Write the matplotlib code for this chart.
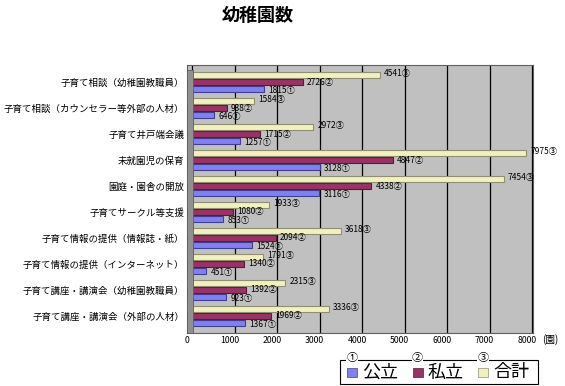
import numpy as np
import matplotlib.pyplot as plt
from matplotlib.patches import Rectangle
from matplotlib.transforms import ScaledTranslation

plt.rcParams['font.family'] = ['Noto Sans CJK JP', 'DejaVu Sans']

# データ (上から順)
categories = ['子育て相談（幼稚園教職員）', '子育て相談（カウンセラー等外部の人材）',
              '子育て井戸端会議', '未就園児の保育', '園庭・園舎の開放',
              '子育てサークル等支援', '子育て情報の提供（情報誌・紙）',
              '子育て情報の提供（インターネット）', '子育て講座・講演会（幼稚園教職員）',
              '子育て講座・講演会（外部の人材）']
kouritsu = [1815, 646, 1257, 3128, 3116, 853, 1524, 451, 923, 1367]
shiritsu = [2726, 938, 1715, 4847, 4338, 1080, 2094, 1340, 1392, 1969]
goukei = [4541, 1584, 2972, 7975, 7454, 1933, 3618, 1791, 2315, 3336]
series_names = ['公立', '私立', '合計']
marks = ['①', '②', '③']
colors = ['#8080f0', '#993366', '#f0f0c0']
edges = ['#404090', '#5a1a3a', '#909070']
xticks = [0, 1000, 2000, 3000, 4000, 5000, 6000, 7000, 8000]

W, H = 565, 386
fig = plt.figure(figsize=(W / 100, H / 100), dpi=100)
fig.patch.set_facecolor('white')

def fx(px):
    return px / W

def fy(py):
    return 1 - py / H

ax = fig.add_axes([fx(187), fy(333), fx(533) - fx(187), fy(65) - fy(333)])
ax.set_facecolor('#c0c0c0')
ax.set_xlim(0, 8000 * 346 / 340)
ax.set_ylim(len(categories) - 1 + 0.654, -0.654)

y = np.arange(len(categories))
off = [0.27, 0, -0.27]
nudge = [-1.2, 0, 1.2]  # ラベルの上下ずらし (pt)
h = 0.22
num_font = ['Liberation Sans Narrow', 'Noto Sans CJK JP', 'DejaVu Sans']
for vals, o, c, ec, m, nd in zip([kouritsu, shiritsu, goukei], off, colors, edges, marks, nudge):
    ax.barh(y + o, vals, height=h, color=c, edgecolor=ec, linewidth=0.8, zorder=3)
    for yi, v in zip(y, vals):
        ax.annotate(f'{v}{m}', (v, yi + o), xytext=(3, nd), textcoords='offset points',
                    fontsize=6, family=num_font, va='center', ha='left',
                    color='black', zorder=5, annotation_clip=False)

ax.set_xticks(xticks)
ax.set_xticklabels([str(t) for t in xticks], fontsize=6.3)
ax.set_yticks(y)
ax.set_yticklabels(categories, fontsize=6.8)
ax.tick_params(axis='both', length=0, pad=2)
ax.xaxis.grid(True, color='black', linewidth=0.9, zorder=1)
for ln in ax.get_xgridlines():
    ln.set_transform(ln.get_transform() + ScaledTranslation(5 / 100, 0, fig.dpi_scale_trans))
for s in ax.spines.values():
    s.set_color('#606060')
    s.set_linewidth(0.8)

# 奥行きの側面
fig.patches.append(Rectangle((fx(187), fy(333)), fx(193) - fx(187), fy(70) - fy(333),
                             transform=fig.transFigure, facecolor='#909090',
                             edgecolor='#606060', linewidth=0.6, zorder=2))

fig.text(fx(258), fy(15), '幼稚園数', fontsize=13, fontweight='bold', ha='center', va='center')
fig.text(fx(550), fy(340), '(園)', fontsize=7, ha='center', va='center')

# 凡例
fig.patches.append(Rectangle((fx(340), fy(384)), fx(538) - fx(340), fy(360) - fy(384),
                             transform=fig.transFigure, facecolor='white',
                             edgecolor='black', linewidth=0.8))
for i, (name, c, ec, m) in enumerate(zip(series_names, colors, edges, marks)):
    x0 = 347 + i * 65.5
    fig.patches.append(Rectangle((fx(x0), fy(377)), fx(10) - fx(0), fy(368) - fy(377),
                                 transform=fig.transFigure, facecolor=c,
                                 edgecolor=ec, linewidth=0.5))
    fig.text(fx(x0 + 15), fy(372.5), name, fontsize=13, ha='left', va='center')
    fig.text(fx(x0 + 5), fy(358), m, fontsize=8, ha='center', va='center',
             bbox=dict(facecolor='white', edgecolor='none', pad=0))

fig.savefig('out.png', dpi=100)
